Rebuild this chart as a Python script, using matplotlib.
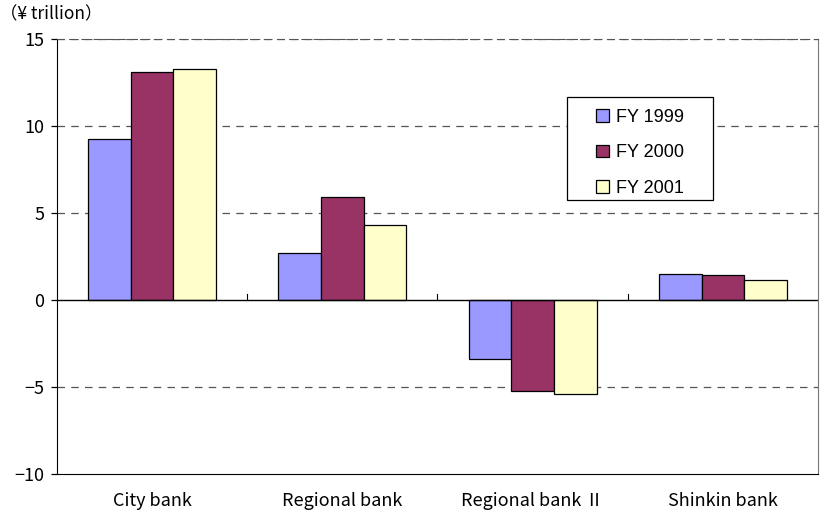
import numpy as np
import matplotlib
matplotlib.use("Agg")
import matplotlib.pyplot as plt
from matplotlib.patches import Rectangle

plt.rcParams['font.family'] = ['Noto Sans CJK JP', 'DejaVu Sans']
plt.rcParams['axes.unicode_minus'] = True

categories = ["City bank", "Regional bank", "Regional bank Ⅱ", "Shinkin bank"]
series_names = ["FY 1999", "FY 2000", "FY 2001"]
fy1999 = [9.25, 2.7, -3.4, 1.5]
fy2000 = [13.1, 5.9, -5.25, 1.45]
fy2001 = [13.3, 4.3, -5.4, 1.15]
colors = ["#9999FF", "#993366", "#FFFFCC"]

fig = plt.figure(figsize=(8.25, 5.13), dpi=100)
ax = fig.add_axes([0.0691, 0.076, 0.9224, 0.848])

x = np.arange(len(categories))
w = 0.224
for i, (vals, name) in enumerate(zip([fy1999, fy2000, fy2001], series_names)):
    ax.bar(x + (i - 1) * w, vals, w, color=colors[i], edgecolor="black",
           linewidth=0.9, label=name, zorder=3)

ax.set_xlim(-0.5, 3.5)
ax.set_ylim(-10, 15)
ax.set_yticks([-10, -5, 0, 5, 10, 15])
ax.set_yticklabels(["−10", "−5", "0", "5", "10", "15"])
for y in [-5, 5, 10, 15]:
    ax.axhline(y, color="#555555", linestyle=(0, (6, 5)), linewidth=0.9, zorder=1)
ax.axhline(0, color="black", linewidth=1.0, zorder=4)

# category separator ticks on zero line
for sep in [0.5, 1.5, 2.5]:
    ax.plot([sep, sep], [0, 0.35], color="black", linewidth=0.8, zorder=4)

ax.set_xticks(x)
ax.set_xticklabels(categories)
ax.tick_params(axis="x", length=0, pad=13, labelsize=13)
ax.tick_params(axis="y", direction="out", length=4, width=0.9, labelsize=13, pad=5)

ax.spines["left"].set_color("black")
ax.spines["bottom"].set_color("black")
ax.spines["top"].set_color("#555555")
ax.spines["top"].set_linestyle((0, (6, 5)))
ax.spines["right"].set_color("#777777")

# legend box drawn by hand so it can be wider than its entries
lx, ly, lw, lh = 0.670, 0.630, 0.192, 0.237
ax.add_patch(Rectangle((lx, ly), lw, lh, transform=ax.transAxes, facecolor="white",
                       edgecolor="black", linewidth=0.9, zorder=5))
leg = ax.legend(loc="center", bbox_to_anchor=(lx, ly - 0.01, lw, lh), frameon=False,
                prop={"family": "Liberation Sans", "size": 13},
                handlelength=0.7, handleheight=0.7, handletextpad=0.4,
                labelspacing=1.02, borderpad=0, borderaxespad=0)
leg.set_zorder(6)

fig.text(0.0, 0.972, "（¥ trillion）", fontsize=12.5, ha="left", va="center")

fig.savefig("out.png", dpi=100)
